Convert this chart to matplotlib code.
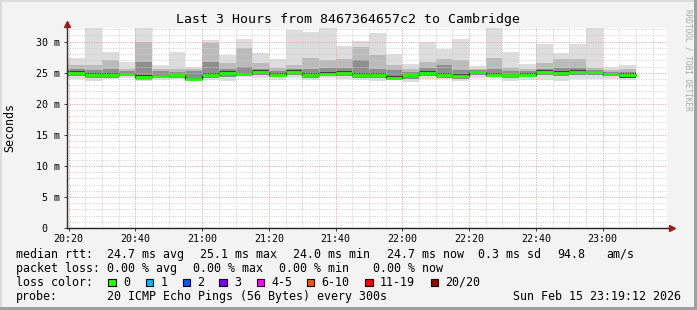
import numpy as np
import matplotlib
matplotlib.use('Agg')
import matplotlib.pyplot as plt
from matplotlib.patches import Rectangle

plt.rcParams['font.family'] = 'DejaVu Sans Mono'

# 5 minute steps, minutes after 20:20
median = [24.9, 24.6, 24.6, 24.8, 24.3, 24.5, 24.6, 24.0, 24.6, 24.9, 24.8, 25.1,
          24.7, 25.1, 24.6, 24.8, 25.0, 24.6, 24.7, 24.2, 24.6, 25.0, 24.6, 24.5,
          25.1, 24.7, 24.6, 24.7, 25.1, 25.0, 25.1, 25.1, 24.8, 24.7]
ping_max = [27.3, 32.2, 28.4, 26.7, 32.2, 26.2, 28.4, 26.0, 30.3, 27.9, 30.4, 28.1,
            27.2, 31.9, 31.6, 32.2, 29.3, 30.1, 31.4, 28.0, 26.4, 30.0, 28.8, 30.5,
            26.1, 32.2, 28.4, 26.4, 29.7, 28.1, 29.7, 32.2, 26.0, 26.2]
ping_upper = [26.3, 26.2, 27.1, 25.6, 30.0, 25.6, 25.6, 25.6, 29.8, 26.5, 28.9, 26.5,
              25.8, 26.2, 27.3, 27.0, 27.2, 29.2, 27.9, 26.2, 25.6, 26.8, 27.2, 27.0,
              25.6, 27.4, 25.8, 25.6, 26.5, 27.2, 27.2, 25.8, 25.4, 25.6]
ping_inner = [25.6, 25.5, 25.6, 25.3, 26.8, 25.3, 25.1, 25.2, 26.7, 25.6, 25.9, 25.6,
              25.2, 25.6, 25.6, 25.7, 25.8, 27.0, 25.6, 25.4, 25.1, 25.8, 26.2, 25.4,
              25.4, 25.6, 25.2, 25.2, 25.6, 25.8, 25.8, 25.5, 25.1, 25.1]
core_hi = [25.2, 24.9, 24.9, 25.0, 24.6, 24.7, 24.8, 24.2, 24.9, 25.2, 25.0, 25.4,
           24.9, 25.4, 24.9, 25.1, 25.3, 24.9, 25.0, 24.5, 24.8, 25.3, 24.9, 24.8,
           25.3, 24.9, 24.8, 24.9, 25.4, 25.3, 25.4, 25.3, 25.0, 24.9]
core_lo = [24.6, 24.3, 24.3, 24.6, 24.1, 24.3, 24.4, 23.8, 24.4, 24.6, 24.6, 24.8,
           24.5, 24.8, 24.3, 24.6, 24.7, 24.4, 24.4, 24.0, 24.3, 24.7, 24.4, 24.3,
           24.8, 24.5, 24.4, 24.4, 24.8, 24.7, 24.8, 24.8, 24.5, 24.2]
ping_lowmid = [24.4, 24.1, 24.2, 24.4, 23.9, 24.1, 24.2, 23.8, 24.2, 24.3, 24.5, 24.6,
               24.3, 24.6, 24.1, 24.4, 24.5, 24.2, 24.1, 23.9, 24.0, 24.5, 24.2, 24.0,
               24.6, 24.4, 24.1, 24.3, 24.6, 24.4, 24.6, 24.6, 24.4, 24.2]
ping_min = [24.0, 23.7, 24.0, 24.2, 23.7, 23.9, 24.0, 23.7, 23.9, 23.6, 24.3, 24.2,
            23.9, 24.2, 23.8, 24.2, 24.0, 23.9, 23.6, 23.9, 23.5, 24.0, 24.0, 23.6,
            24.2, 24.2, 23.6, 23.9, 23.9, 23.6, 24.0, 24.0, 24.0, 23.8]

time_ticks = [0, 20, 40, 60, 80, 100, 120, 140, 160]
time_labels = ['20:20', '20:40', '21:00', '21:20', '21:40', '22:00', '22:20', '22:40', '23:00']
y_ticks = [0, 5, 10, 15, 20, 25, 30]
y_labels = [' 0  ', ' 5 m', '10 m', '15 m', '20 m', '25 m', '30 m']

rtt_items = [('median rtt:', 16), ('24.7 ms avg', 107.3), ('25.1 ms max', 200),
             ('24.0 ms min', 292.7), ('24.7 ms now', 386.7), ('0.3 ms sd', 477.7),
             ('94.8', 557.7), ('am/s', 606.7)]
loss_items = [('packet loss:', 16), ('0.00 % avg', 107.3), ('0.00 % max', 193.3),
              ('0.00 % min', 279.3), ('0.00 % now', 373.3)]
loss_names = ['0', '1', '2', '3', '4-5', '6-10', '11-19', '20/20']
loss_colors = ['#26ff00', '#00b8ff', '#0059ff', '#7e00ff', '#ff00ff', '#ff5500', '#ff0000', '#a10000']
loss_box_x = [108.3, 145.7, 182.7, 219.3, 256.7, 306.7, 365, 430.7]

W, H = 697, 310
X0, X1 = -0.5, 179.3

fig = plt.figure(figsize=(W / 100, H / 100), dpi=100, facecolor='#f3f3f3')
ax = fig.add_axes([67 / W, (H - 228) / H, 600 / W, 200 / H])
ax.set_facecolor('white')

edges = np.r_[X0, np.arange(1, len(median) + 1) * 5]


def band(lo, hi, color, z):
    ax.fill_between(edges, np.r_[lo, lo[-1]], np.r_[hi, hi[-1]], step='post',
                    color=color, linewidth=0, zorder=z)


band(ping_min, ping_max, '#dddddd', 1)
band(ping_lowmid, ping_upper, '#bababa', 2)
band(ping_lowmid, ping_inner, '#8e8e8e', 3)
band(core_lo, core_hi, '#404040', 4)

# grid on top of the smoke, like rrdtool
for v in range(0, 33):
    c = '#f2a0a0' if v % 5 == 0 else '#cfcfcf'
    ax.axhline(v, color=c, lw=0.72, ls=(0, (1, 1.4)), zorder=5)
for t in range(0, 180, 5):
    c = '#f2a0a0' if t % 20 == 0 else '#cfcfcf'
    ax.axvline(t, color=c, lw=0.72, ls=(0, (1, 1.4)), zorder=5)

ax.step(edges, np.r_[median, median[-1]], where='post', color='#202020', lw=1.0, zorder=6)
ax.hlines(median, edges[:-1], edges[1:], color='#26ff00', lw=2.0, zorder=7)

ax.set_xlim(X0, X1)
ax.set_ylim(0, 32.2)
ax.set_xticks(time_ticks)
ax.set_xticklabels(time_labels)
ax.set_yticks(y_ticks)
ax.set_yticklabels(y_labels)
ax.tick_params(labelsize=7.2, length=2, width=0.7, color='#404040', pad=3)
ax.tick_params(axis='x', pad=2.5)
for s in ax.spines.values():
    s.set_visible(False)

# axis lines with arrows
ax.plot([0, 0], [0, 1.02], transform=ax.transAxes, color='#303030', lw=1, clip_on=False, zorder=8)
ax.plot([0, 1.005], [0, 0], transform=ax.transAxes, color='#202020', lw=1, clip_on=False, zorder=8)
ax.plot([0], [1.022], marker='^', ms=5, color='#a01818', transform=ax.transAxes, clip_on=False, zorder=9)
ax.plot([1.0075], [0], marker='>', ms=5, color='#a01818', transform=ax.transAxes, clip_on=False, zorder=9)


def ftext(x, y, s, **kw):
    fig.text(x / W, 1 - y / H, s, **kw)


ftext(347.5, 19, 'Last 3 Hours from 8467364657c2 to Cambridge', ha='center', va='center', fontsize=9.5)
ftext(10, 128, 'Seconds', rotation=90, ha='center', va='center', fontsize=8.4)
ftext(688, 60, 'RRDTOOL / TOBI OETIKER', rotation=270, ha='center', va='center',
      fontsize=5.6, color='#a8a8a8')

for s, x in rtt_items:
    ftext(x, 254.3, s, va='center', fontsize=8.4)
for s, x in loss_items:
    ftext(x, 268.3, s, va='center', fontsize=8.4)
ftext(16, 282, 'loss color:', va='center', fontsize=8.4)
for name, col, bx in zip(loss_names, loss_colors, loss_box_x):
    fig.add_artist(Rectangle((bx / W, 1 - 286 / H), 7.5 / W, 7.5 / H, transform=fig.transFigure,
                             facecolor=col, edgecolor='black', lw=0.8))
    ftext(bx + 14.5, 282, name, va='center', fontsize=8.4)
ftext(16, 296.3, 'probe:', va='center', fontsize=8.4)
ftext(107.3, 296.3, '20 ICMP Echo Pings (56 Bytes) every 300s', va='center', fontsize=8.4)
ftext(513.3, 296.3, 'Sun Feb 15 23:19:12 2026', va='center', fontsize=8.4)

# frame
fig.add_artist(Rectangle((0, 1 - 2 / H), 1, 2 / H, transform=fig.transFigure, color='#dcdcdc', lw=0))
fig.add_artist(Rectangle((0, 0), 2 / W, 1, transform=fig.transFigure, color='#dcdcdc', lw=0))
fig.add_artist(Rectangle((0, 0), 1, 3 / H, transform=fig.transFigure, color='#a0a0a0', lw=0))
fig.add_artist(Rectangle((1 - 3 / W, 0), 3 / W, 1, transform=fig.transFigure, color='#a0a0a0', lw=0))

fig.savefig('out.png', dpi=100, facecolor=fig.get_facecolor())
